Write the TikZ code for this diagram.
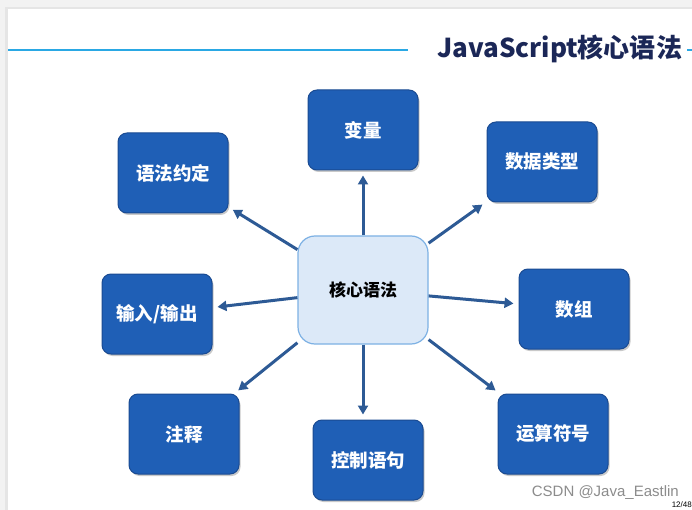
\documentclass[tikz,border=0pt]{standalone}
\usepackage{fontspec}
\setmainfont{Liberation Sans}
\newfontfamily\cjk{Noto Sans CJK SC}
\usetikzlibrary{arrows.meta,shadows}
\definecolor{boxblue}{HTML}{1F5FB6}
\definecolor{boxedge}{HTML}{1A4B92}
\definecolor{cfill}{HTML}{DCE9F8}
\definecolor{cedge}{HTML}{7DB1E4}
\definecolor{arrowc}{HTML}{2D5A95}
\definecolor{linec}{HTML}{2AA8E4}
\definecolor{titlec}{HTML}{1B2757}
\tikzset{
  leaf/.style={draw=boxedge, line width=1pt, fill=boxblue, rounded corners=9pt,
    minimum width=110pt, minimum height=80pt, text=white,
    font=\cjk\bfseries\fontsize{18.5}{21}\selectfont,
    drop shadow={shadow xshift=1.5pt, shadow yshift=-2pt, opacity=0.35, fill=black!60}},
  hub/.style={draw=cedge, line width=1.2pt, fill=cfill, rounded corners=17pt,
    minimum width=130pt, minimum height=108pt, text=black,
    font=\cjk\bfseries\fontsize{17}{20}\selectfont},
  link/.style={draw=arrowc, line width=3pt, -{Triangle[length=9pt,width=10pt]}, shorten >=5pt},
}
\begin{document}
\begin{tikzpicture}[x=1pt,y=-1pt]
\useasboundingbox (0,0) rectangle (692,510);
\fill[black!5] (0,0) rectangle (692,510);
\fill[black!10] (5,7) rectangle (692,510);
\fill[white] (8,9) rectangle (692,510);
\coordinate (l1) at (8,50);
\coordinate (l2) at (408,50);
\coordinate (l3) at (687,50);
\coordinate (l4) at (692,50);
\draw[linec, line width=2pt] (l1) -- (l2);
\draw[linec, line width=2pt] (l3) -- (l4);
\node[anchor=west, text=titlec, font=\cjk\bfseries\fontsize{26}{29}\selectfont, inner sep=0pt] (title) at (437,49) {JavaScript核心语法};

\node[hub] (c) at (363,290) {核心语法};
\node[leaf] (v) at (363,130) {变量};
\node[leaf] (dt) at (542,162) {数据类型};
\node[leaf] (yf) at (173,173) {语法约定};
\node[leaf] (io) at (157,314) {输入/输出};
\node[leaf] (arr) at (574,309) {数组};
\node[leaf] (zs) at (184,434) {注释};
\node[leaf] (kz) at (368,460) {控制语句};
\node[leaf] (ys) at (553,434) {运算符号};

\draw[link] (c.north) -- (v.south -| c.north);
\draw[link] (c) -- (dt);
\draw[link] (c) -- (yf);
\draw[link] (c) -- (io);
\draw[link] (c) -- (arr);
\draw[link] (c) -- (zs);
\draw[link] (c.south) -- (kz.north -| c.south);
\draw[link] (c) -- (ys);

\node[anchor=east, text=black!45, font=\fontsize{15}{17}\selectfont, inner sep=0pt] (wm) at (679,493) {CSDN @Java\_Eastlin};
\node[anchor=east, text=black, font=\fontsize{8}{9}\selectfont, inner sep=0pt] (pg) at (692,505) {12/48};
\end{tikzpicture}
\end{document}
